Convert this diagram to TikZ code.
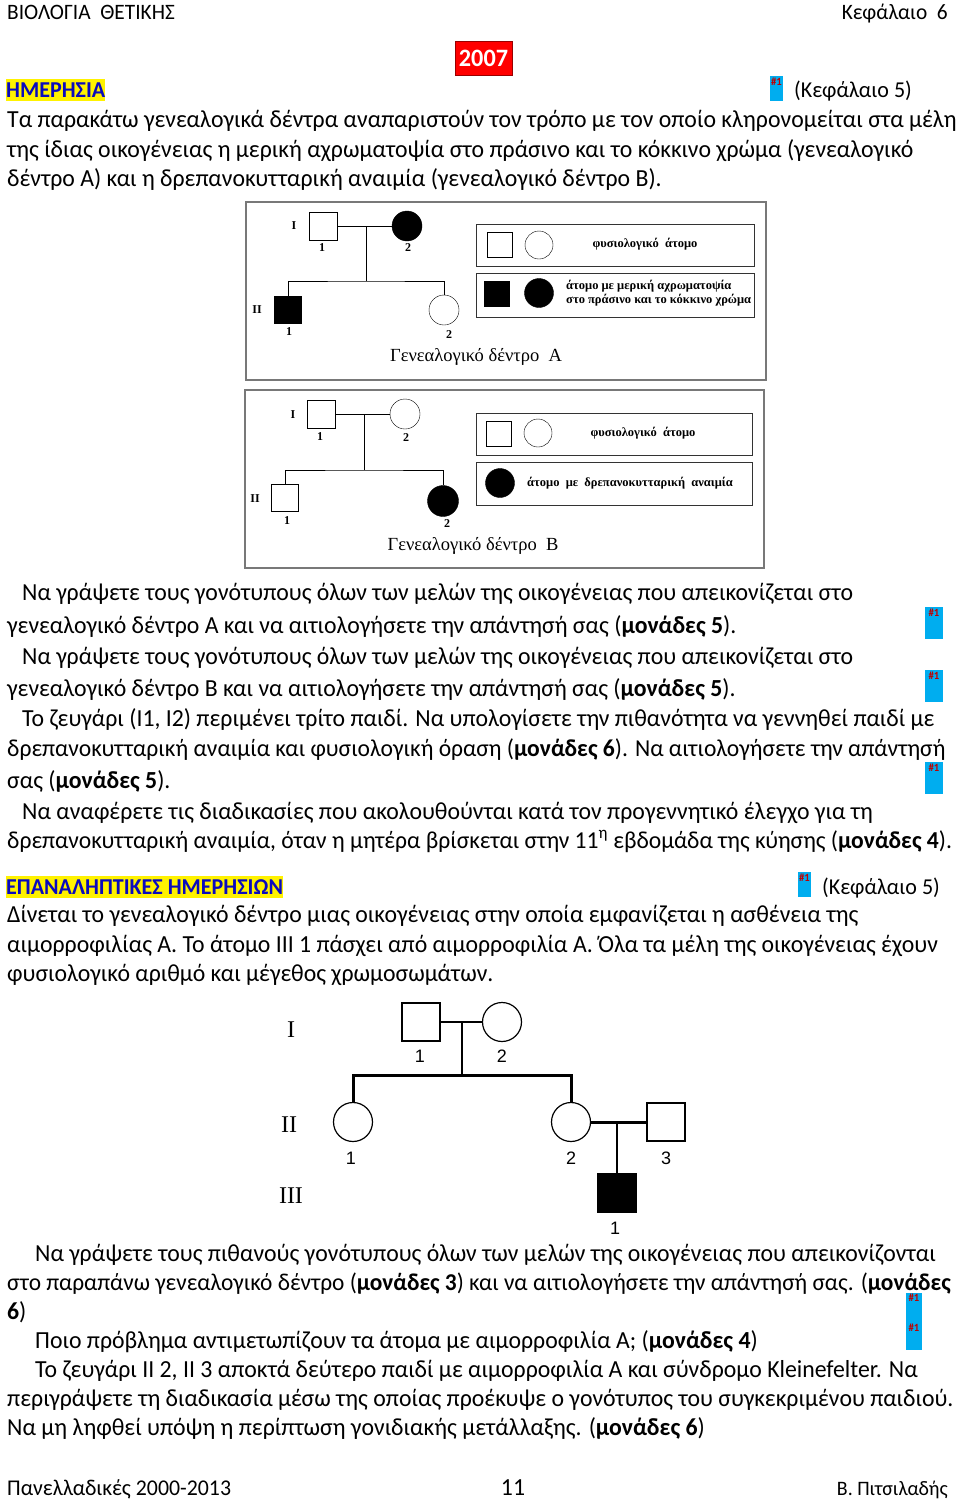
\documentclass[tikz,border=0pt]{standalone}
\usepackage{fontspec}
\setmainfont{Carlito}[FakeStretch=0.97]
\newfontfamily\pedserif{Liberation Serif}
\newfontfamily\pedsans{Liberation Sans}
\usepackage{xcolor}
\usepackage{tikz}

\definecolor{tagred}{RGB}{192,0,0}
\definecolor{headblue}{RGB}{10,10,190}
\definecolor{framegray}{RGB}{120,120,120}
\newcommand{\bodyfont}{\fontsize{24.5}{29}\selectfont}
\newcommand{\sidefont}{\fontsize{22.7}{27}\selectfont}
\newcommand{\legfont}{\pedserif\bfseries\fontsize{12.5}{14}\selectfont}

\tikzset{
  ln/.style={anchor=base west, inner sep=0pt, font=\bodyfont},
  lnr/.style={anchor=base east, inner sep=0pt, font=\bodyfont},
  head/.style={ln, fill=yellow, text=headblue, font=\sidefont\bfseries, text height=18pt, text depth=4pt},
  tag/.style={fill=cyan, text=tagred, anchor=north, inner xsep=1pt, inner ysep=1pt,
    font=\bfseries\fontsize{11}{11}\selectfont, minimum width=#1, text height=8pt},
  sq/.style={draw, rectangle, inner sep=0pt, minimum size=#1},
  ci/.style={draw, circle, inner sep=0pt, minimum size=#1},
  aff/.style={fill=black},
  plab/.style={inner sep=0pt, font=\pedserif\bfseries\fontsize{12}{12}\selectfont},
  clab/.style={inner sep=0pt, font=\pedsans\fontsize{18}{18}\selectfont},
  gen/.style={inner sep=0pt, font=\pedserif\fontsize{24}{24}\selectfont},
  pcap/.style={inner sep=0pt, font=\pedserif\fontsize{18.5}{18.5}\selectfont},
  legbox/.style={draw=black!80, line width=0.8pt},
  frame/.style={draw=framegray, line width=1.2pt}
}

\begin{document}
\begin{tikzpicture}[x=1pt,y=-1pt]
\useasboundingbox[fill=white] (0,0) rectangle (960,1500);

% page header
\node[ln, font=\fontsize{22}{26}\selectfont] (hdl) at (7,19) {ΒΙΟΛΟΓΙΑ\ \ ΘΕΤΙΚΗΣ};
\node[lnr, font=\fontsize{22}{26}\selectfont] (hdr) at (948,19) {Κεφάλαιο\ \ 6};
\node[draw=red!60!black, fill=red, text=white, minimum width=57pt, minimum height=34pt,
  inner sep=0pt, font=\fontsize{25}{25}\selectfont\bfseries] (year) at (483.5,58) {2007};

% ---- first exam
\node[head] (h1) at (6,97) {ΗΜΕΡΗΣΙΑ};
\node[tag=13pt, text depth=15pt] (t1) at (776.5,76) {\#1};
\node[ln, font=\sidefont] (k1) at (794,97) {(Κεφάλαιο 5)};
\node[ln] (p1) at (7,127) {Τα παρακάτω γενεαλογικά δέντρα αναπαριστούν τον τρόπο με τον οποίο κληρονομείται στα μέλη};
\node[ln] (p2) at (7,157) {της ίδιας οικογένειας η μερική αχρωματοψία στο πράσινο και το κόκκινο χρώμα (γενεαλογικό};
\node[ln] (p3) at (7,186) {δέντρο Α) και η δρεπανοκυτταρική αναιμία (γενεαλογικό δέντρο Β).};

% pedigree A
\draw[frame] (246,202) rectangle (766,380);
\node[sq=28pt] (a11) at (323,226) {};
\node[ci=30pt, aff] (a12) at (407,226) {};
\node[sq=27pt, aff] (a21) at (288,310) {};
\node[ci=30pt] (a22) at (444,310) {};
\coordinate (am) at (366,226);
\coordinate (as) at (366,281);
\draw (a11) -- (a12);
\draw (am) -- (as);
\draw (a21.north) |- (as) -| (a22.north);
\node[plab] (aI) at (294,226) {I};
\node[plab] (aII) at (257,310) {II};
\node[plab] (a11n) at (322,248) {1};
\node[plab] (a12n) at (408,248) {2};
\node[plab] (a21n) at (289,332) {1};
\node[plab] (a22n) at (449,335) {2};
\node[pcap] (acap) at (476,357) {Γενεαλογικό δέντρο\ \ Α};
\draw[legbox] (476,224) rectangle (754,266);
\node[sq=25pt] (al1) at (500,245) {};
\node[ci=28pt] (al2) at (539,245) {};
\node[inner sep=0pt, font=\legfont] (alt1) at (645,244) {φυσιολογικό\ \ άτομο};
\draw[legbox] (476,273) rectangle (754,317);
\node[sq=25pt, aff] (al3) at (497,294) {};
\node[ci=29pt, aff] (al4) at (539,293) {};
\node[anchor=west, inner sep=0pt, align=left, font=\legfont] (alt2) at (566,293)
  {άτομο με μερική αχρωματοψία\\στο πράσινο και το κόκκινο χρώμα};

% pedigree B
\draw[frame] (245,390) rectangle (764,568);
\node[sq=28pt] (b11) at (321,414) {};
\node[ci=30pt] (b12) at (405,414) {};
\node[sq=27pt] (b21) at (285,498) {};
\node[ci=31pt, aff] (b22) at (443,501) {};
\coordinate (bm) at (364,414);
\coordinate (bs) at (364,470);
\draw (b11) -- (b12);
\draw (bm) -- (bs);
\draw (b21.north) |- (bs) -| (b22.north);
\node[plab] (bI) at (293,415) {I};
\node[plab] (bII) at (255,499) {II};
\node[plab] (b11n) at (320,437) {1};
\node[plab] (b12n) at (406,438) {2};
\node[plab] (b21n) at (287,521) {1};
\node[plab] (b22n) at (447,524) {2};
\node[pcap] (bcap) at (473,546) {Γενεαλογικό δέντρο\ \ Β};
\draw[legbox] (476,413) rectangle (752,455);
\node[sq=25pt] (bl1) at (499,434) {};
\node[ci=28pt] (bl2) at (538,433) {};
\node[inner sep=0pt, font=\legfont] (blt1) at (643,433) {φυσιολογικό\ \ άτομο};
\draw[legbox] (476,462) rectangle (752,505);
\node[ci=29pt, aff] (bl3) at (500,483) {};
\node[inner sep=0pt, font=\legfont] (blt2) at (630,483) {άτομο\ \ με\ \ δρεπανοκυτταρική\ \ αναιμία};

% questions
\node[ln] (q1) at (22,600) {Να γράψετε τους γονότυπους όλων των μελών της οικογένειας που απεικονίζεται στο};
\node[ln] (q2) at (7,633) {γενεαλογικό δέντρο Α και να αιτιολογήσετε την απάντησή σας (\textbf{μονάδες 5}).};
\node[ln] (q3) at (22,664) {Να γράψετε τους γονότυπους όλων των μελών της οικογένειας που απεικονίζεται στο};
\node[ln] (q4) at (7,696) {γενεαλογικό δέντρο Β και να αιτιολογήσετε την απάντησή σας (\textbf{μονάδες 5}).};
\node[ln] (q5) at (22,726) {Το ζευγάρι (Ι1, Ι2) περιμένει τρίτο παιδί. Να υπολογίσετε την πιθανότητα να γεννηθεί παιδί με};
\node[ln, font=\fontsize{24.3}{29}\selectfont] (q6) at (7,756) {δρεπανοκυτταρική αναιμία και φυσιολογική όραση (\textbf{μονάδες 6}). Να αιτιολογήσετε την απάντησή};
\node[ln] (q7) at (7,788) {σας (\textbf{μονάδες 5}).};
\node[ln] (q8) at (22,819) {Να αναφέρετε τις διαδικασίες που ακολουθούνται κατά τον προγεννητικό έλεγχο για τη};
\node[ln, font=\fontsize{24.3}{29}\selectfont] (q9) at (7,848) {δρεπανοκυτταρική αναιμία, όταν η μητέρα βρίσκεται στην 11\textsuperscript{η} εβδομάδα της κύησης (\textbf{μονάδες 4}).};
\node[tag=18pt, text depth=22pt] (t2) at (934,607) {\#1};
\node[tag=18pt, text depth=22pt] (t3) at (934,670) {\#1};
\node[tag=18pt, text depth=22pt] (t4) at (934,762) {\#1};

% ---- second exam
\node[head] (h2) at (6,894) {ΕΠΑΝΑΛΗΠΤΙΚΕΣ ΗΜΕΡΗΣΙΩΝ};
\node[tag=13pt, text depth=15pt] (t5) at (804.5,872) {\#1};
\node[ln, font=\sidefont] (k2) at (822,894) {(Κεφάλαιο 5)};
\node[ln] (r1) at (7,922) {Δίνεται το γενεαλογικό δέντρο μιας οικογένειας στην οποία εμφανίζεται η ασθένεια της};
\node[ln] (r2) at (7,952) {αιμορροφιλίας Α. Το άτομο ΙΙΙ 1 πάσχει από αιμορροφιλία Α. Όλα τα μέλη της οικογένειας έχουν};
\node[ln] (r3) at (7,981) {φυσιολογικό αριθμό και μέγεθος χρωμοσωμάτων.};

% pedigree C
\node[sq=38pt, line width=1.2pt] (c11) at (421,1022) {};
\node[ci=39pt, line width=1.2pt] (c12) at (502,1022) {};
\node[ci=39pt, line width=1.2pt] (c21) at (353,1122) {};
\node[ci=39pt, line width=1.2pt] (c22) at (571,1122) {};
\node[sq=38pt, line width=1.2pt] (c23) at (666,1122) {};
\node[sq=38pt, line width=1.2pt, aff] (c31) at (617,1193) {};
\coordinate (cm1) at (462,1022);
\coordinate (cs1) at (462,1075);
\coordinate (cm2) at (617,1122);
\draw[line width=1.2pt] (c11) -- (c12);
\draw[line width=2.2pt] (cm1) -- (cs1);
\draw[line width=3pt] (c21.north) |- (cs1) -| (c22.north);
\draw[line width=3pt] (c22) -- (c23);
\draw[line width=1.2pt] (cm2) -- (c31.north);
\node[gen] (cI) at (291,1030) {I};
\node[gen] (cII) at (289,1125) {II};
\node[gen] (cIII) at (291,1196) {III};
\node[clab] (c11n) at (420,1056) {1};
\node[clab] (c12n) at (502,1056) {2};
\node[clab] (c21n) at (351,1158) {1};
\node[clab] (c22n) at (571,1158) {2};
\node[clab] (c23n) at (666,1158) {3};
\node[clab] (c31n) at (615,1228) {1};

\node[ln] (s1) at (35,1261) {Να γράψετε τους πιθανούς γονότυπους όλων των μελών της οικογένειας που απεικονίζονται};
\node[ln, font=\fontsize{24.1}{29}\selectfont] (s2) at (7,1290) {στο παραπάνω γενεαλογικό δέντρο (\textbf{μονάδες 3}) και να αιτιολογήσετε την απάντησή σας. (\textbf{μονάδες}};
\node[ln] (s3) at (7,1319) {\textbf{6})};
\node[ln] (s4) at (35,1348) {Ποιο πρόβλημα αντιμετωπίζουν τα άτομα με αιμορροφιλία Α; (\textbf{μονάδες 4})};
\node[ln] (s5) at (35,1377) {Το ζευγάρι ΙΙ 2, ΙΙ 3 αποκτά δεύτερο παιδί με αιμορροφιλία Α και σύνδρομο Kleinefelter. Να};
\node[ln] (s6) at (7,1406) {περιγράψετε τη διαδικασία μέσω της οποίας προέκυψε ο γονότυπος του συγκεκριμένου παιδιού.};
\node[ln] (s7) at (7,1435) {Να μη ληφθεί υπόψη η περίπτωση γονιδιακής μετάλλαξης. (\textbf{μονάδες 6})};
\node[fill=cyan, minimum width=16pt, minimum height=57pt, inner sep=0pt, anchor=north] (t6) at (914,1293) {};
\node[inner sep=0pt, anchor=north, text=tagred, font=\bfseries\fontsize{11}{11}\selectfont] (t6a) at (914,1294) {\#1};
\node[inner sep=0pt, anchor=north, text=tagred, font=\bfseries\fontsize{11}{11}\selectfont] (t6b) at (914,1324) {\#1};

% page footer
\node[ln, font=\fontsize{22.5}{27}\selectfont] (f1) at (7,1495) {Πανελλαδικές 2000-2013};
\node[anchor=base, inner sep=0pt, font=\bodyfont] (f2) at (513,1495) {11};
\node[lnr, font=\fontsize{20.5}{25}\selectfont] (f3) at (948,1495) {Β. Πιτσιλαδής};
\end{tikzpicture}
\end{document}
